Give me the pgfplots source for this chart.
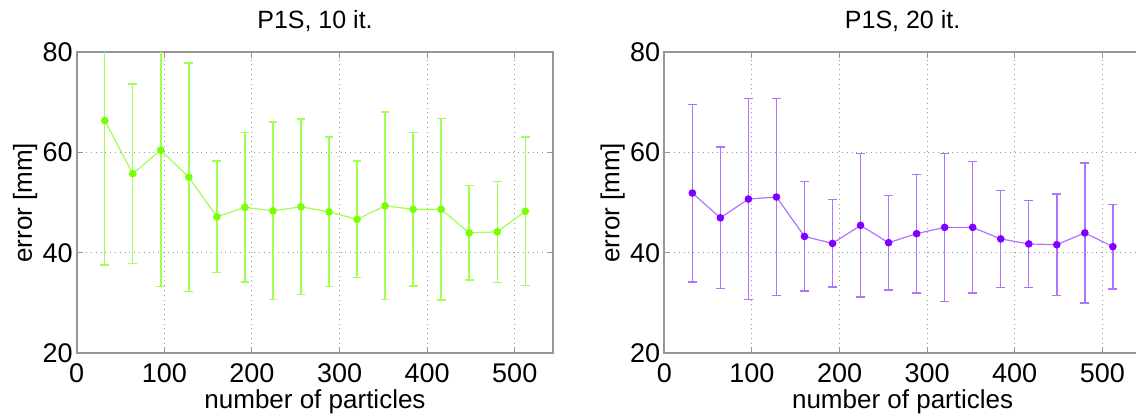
\documentclass[border=0pt]{standalone}
\usepackage{fontspec}
\setmainfont{Liberation Sans}
\usepackage{pgfplots}
\pgfplotsset{compat=1.18}
\usepackage{pgfplotstable}

\definecolor{gmark}{RGB}{120,255,0}
\definecolor{gline}{RGB}{160,255,80}
\definecolor{pmark}{RGB}{127,0,255}
\definecolor{pline}{RGB}{175,115,255}
\definecolor{axgray}{RGB}{150,150,150}

\pgfplotstableread{
x y e
32 66.4 28.8
64 55.8 17.9
96 60.5 27.2
128 55.1 22.8
160 47.2 11.1
192 49.1 14.9
224 48.4 17.7
256 49.2 17.5
288 48.2 14.9
320 46.7 11.6
352 49.4 18.7
384 48.7 15.3
416 48.7 18.1
448 44.0 9.4
480 44.2 10.1
512 48.3 14.8
}\tenit

\pgfplotstableread{
x y e
32 51.95 17.7
64 47.0 14.1
96 50.75 20.05
128 51.15 19.6
160 43.3 10.9
192 41.9 8.7
224 45.5 14.3
256 42.05 9.4
288 43.85 11.8
320 45.1 14.75
352 45.1 13.1
384 42.8 9.7
416 41.8 8.65
448 41.65 10.1
480 44.0 13.95
512 41.25 8.4
}\twentyit

\pgfplotsset{
  every axis title shift=0pt,
  panel/.style={
    scale only axis,
    width=238.3pt, height=150.5pt,
    anchor=south west,
    xmin=0, xmax=544, ymin=20, ymax=80,
    xtick={0,100,...,500}, ytick={20,40,60,80},
    /pgf/number format/assume math mode=true,
    tick align=inside,
    major tick length=3pt,
    tick style={axgray, line width=0.5pt},
    axis line style={axgray, line width=1pt},
    grid=major,
    grid style={dotted, gray!80, line width=0.5pt},
    tick label style={font=\fontsize{13.5}{15}\selectfont},
    xticklabel style={yshift=-1.5pt},
    yticklabel style={xshift=1.5pt},
    label style={font=\fontsize{13}{15}\selectfont},
    title style={font=\fontsize{12.5}{14}\selectfont, at={(axis description cs:0.5,1)}, anchor=center, yshift=15.6pt},
    xlabel style={at={(axis description cs:0.5,0)}, anchor=center, yshift=-24.4pt},
    ylabel style={at={(axis description cs:0,0.5)}, anchor=center, yshift=25.8pt},
    xlabel={number of particles},
    ylabel={error [mm]},
  },
}

\begin{document}
\begin{tikzpicture}
\begin{axis}[panel, at={(38.35pt,31.85pt)}, title={P1S, 10 it.}]
\addplot[gline, line width=0.6pt, mark=*, mark size=1.6pt,
  mark options={fill=gmark, draw=gmark},
  error bars/.cd, y dir=both, y explicit,
  error bar style={gline, line width=0.7pt},
  error mark options={rotate=90, mark size=2.2pt, gline, line width=0.7pt}]
  table[x=x, y=y, y error=e] {\tenit};
\end{axis}
\begin{axis}[panel, at={(332.15pt,31.85pt)}, title={P1S, 20 it.}]
\addplot[pline, line width=0.6pt, mark=*, mark size=1.6pt,
  mark options={fill=pmark, draw=pmark},
  error bars/.cd, y dir=both, y explicit,
  error bar style={pline, line width=0.7pt},
  error mark options={rotate=90, mark size=2.2pt, pline, line width=0.7pt}]
  table[x=x, y=y, y error=e] {\twentyit};
\end{axis}
\pgfresetboundingbox
\path (0,0) rectangle (568pt,208.5pt);
\end{tikzpicture}
\end{document}
